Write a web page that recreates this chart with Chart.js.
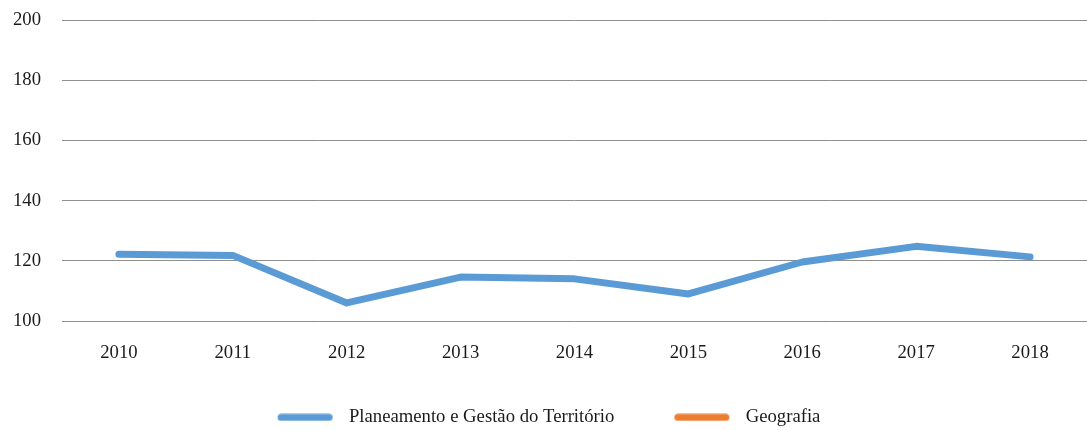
<!DOCTYPE html>
<html>
<head>
<meta charset="utf-8">
<script src="https://cdn.jsdelivr.net/npm/chart.js@4"></script>
<style>
  html, body { margin: 0; padding: 0; background: #fff; }
  #wrap { width: 1087px; height: 430px; }
</style>
</head>
<body>
<div id="wrap"><canvas id="chart"></canvas></div>
<script>
    "use strict";
    const years = ["2010", "2011", "2012", "2013", "2014", "2015", "2016", "2017", "2018"];
    const planeamento = [122.2, 121.8, 106.0, 114.6, 114.0, 109.0, 119.6, 124.8, 121.3];
    const geografia = [null, null, null, null, null, null, null, null, null];
    const yTicks = [100, 120, 140, 160, 180, 200];

    const FONT = {family: "'Liberation Serif', 'Times New Roman', serif", size: 18.7};
    const TEXT = "#1a1a1a";
    const BLUE = "#5B9BD5";
    const ORANGE = "#ED7D31";

    // legend swatch: blank lead-in, then a rounded thick line
    function swatch(color) {
        const c = document.createElement("canvas");
        c.width = 82;
        c.height = 8;
        const g = c.getContext("2d");
        g.strokeStyle = color;
        g.lineWidth = 7;
        g.lineCap = "round";
        g.beginPath();
        g.moveTo(23.5, 4);
        g.lineTo(71.5, 4);
        g.stroke();
        return c;
    }

    const data = {
        labels: years,
        datasets: [
            {
                label: "Planeamento e Gestão do Território",
                data: planeamento,
                borderColor: BLUE,
                backgroundColor: BLUE,
                borderWidth: 7,
                borderCapStyle: "round",
                borderJoinStyle: "round",
                pointRadius: 0,
                pointStyle: swatch(BLUE),
                tension: 0,
            },
            {
                label: "Geografia",
                data: geografia,
                borderColor: ORANGE,
                backgroundColor: ORANGE,
                borderWidth: 7,
                pointRadius: 0,
                pointStyle: swatch(ORANGE),
            },
        ],
    };

    // fixed legend band height, and nudge the row a bit to the left
    const legendHeight = {
        id: "legendHeight",
        beforeLayout(chart) {
            const lg = chart.legend;
            if (!lg || lg._patched) return;
            const fit = lg.fit;
            lg.fit = function () {
                fit.call(this);
                this.height = 62;
                if (this.lineWidths && this.lineWidths.length) this.lineWidths[0] += 22;
            };
            lg._patched = true;
        },
    };

    new Chart(document.getElementById("chart"), {
        type: "line",
        data: data,
        plugins: [legendHeight],
        options: {
            responsive: true,
            maintainAspectRatio: false,
            animation: false,
            layout: {padding: {top: 20, right: 0, bottom: 0, left: 13}},
            plugins: {
                tooltip: {enabled: false},
                legend: {
                    position: "bottom",
                    labels: {
                        usePointStyle: true,
                        pointStyleWidth: 82,
                        padding: 40,
                        color: TEXT,
                        font: FONT,
                    },
                },
            },
            scales: {
                x: {
                    offset: true,
                    afterFit: (scale) => { scale.height = 47; },
                    grid: {display: false, drawTicks: false},
                    border: {display: false},
                    ticks: {color: TEXT, font: FONT, padding: 21, maxRotation: 0},
                },
                y: {
                    min: 100,
                    max: 200,
                    afterFit: (scale) => { scale.width = 49; },
                    afterBuildTicks: (scale) => { scale.ticks = yTicks.map((v) => ({value: v})); },
                    grid: {color: "#8f8f8f", lineWidth: 1, drawTicks: false},
                    border: {display: false},
                    ticks: {color: TEXT, font: FONT, padding: 0, crossAlign: "far"},
                },
            },
        },
    });
</script>
</body>
</html>
